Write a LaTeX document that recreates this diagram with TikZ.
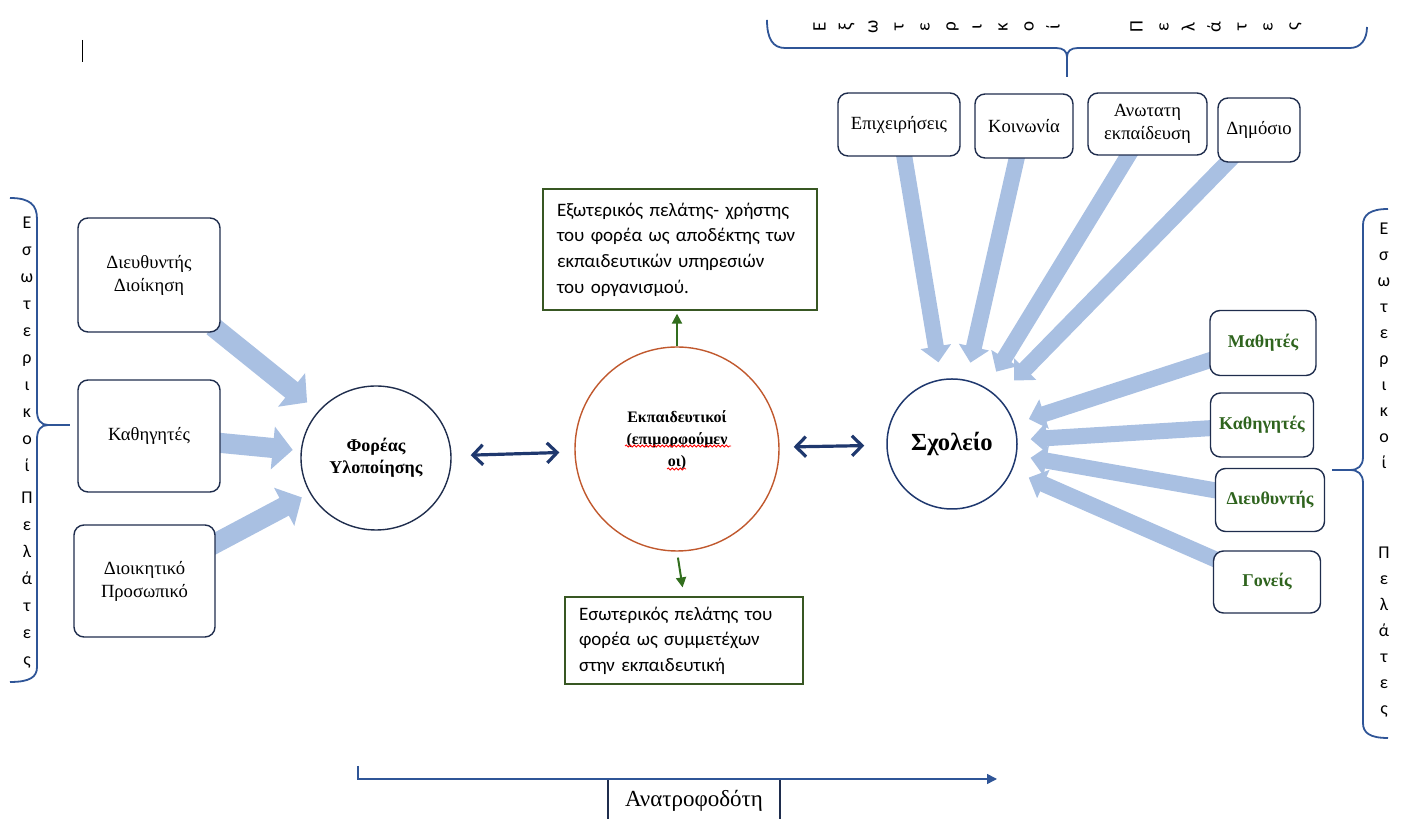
\documentclass[tikz,border=0pt]{standalone}
\usepackage{fontspec}
\setmainfont{Liberation Serif}
\newfontfamily\calfont{Carlito}
\usepackage{xcolor}
\usepackage{tikz}
\usetikzlibrary{arrows.meta, shapes.geometric, backgrounds, decorations.pathmorphing}

\definecolor{navyline}{RGB}{31,45,77}
\definecolor{blockblue}{RGB}{169,192,226}
\definecolor{darknavy}{RGB}{31,56,110}
\definecolor{bracecol}{RGB}{47,85,151}
\definecolor{greentxt}{RGB}{47,100,30}
\definecolor{greenline}{RGB}{56,87,35}
\definecolor{greenarr}{RGB}{50,110,30}
\definecolor{ekpcol}{RGB}{192,88,45}

\tikzset{
  rbox/.style={draw=navyline, line width=0.7pt, rounded corners=5pt, fill=white,
    align=center, inner sep=2pt, font=\fontsize{9.3}{11.5}\selectfont},
  grnbox/.style={rbox, text=greentxt, font=\bfseries\fontsize{9}{11}\selectfont},
  gbox/.style={draw=greenline, line width=0.7pt, fill=white, align=left,
    inner xsep=7pt, inner ysep=2pt, font=\calfont\fontsize{9.5}{12.8}\selectfont},
  lblock/.style={blockblue, line width=10pt, -{Triangle[length=10pt,width=21pt]},
    shorten <=-5pt, shorten >=5pt},
  rblock/.style={blockblue, line width=8pt, -{Triangle[length=8pt,width=15pt]},
    shorten <=-5pt},
  dblarr/.style={darknavy, line width=1.6pt,
    {Straight Barb[length=5pt,width=10pt]}-{Straight Barb[length=5pt,width=10pt]}},
  garr/.style={greenarr, line width=1pt, -{Triangle[length=5pt,width=5pt]}},
  fbarr/.style={bracecol, line width=0.75pt, -{Triangle[length=5pt,width=5pt]}},
  bracel/.style={bracecol, line width=0.9pt},
  stack/.style={font=\calfont\fontsize{9}{13.5}\selectfont, align=center, inner sep=0pt},
  tletter/.style={rotate=90, font=\calfont\fontsize{9.5}{11}\selectfont, inner sep=0pt,
    text height=1.5ex, text depth=0.3ex}
}

\begin{document}
\begin{tikzpicture}[x=0.5pt, y=0.5pt]
    \useasboundingbox (0,0) rectangle (1405,819);

    % δρομέας
    \draw[line width=0.5pt] (82,779) -- (82,757);

    % Αριστερά κουτιά
    \node[rbox, minimum width=71pt, minimum height=57pt] (dird) at (149,544) {Διευθυντής\\Διοίκηση};
    \node[rbox, minimum width=71pt, minimum height=56pt] (kathL) at (149,383) {Καθηγητές};
    \node[rbox, minimum width=70.5pt, minimum height=56pt] (dprs) at (144.5,238) {Διοικητικό\\Προσωπικό};

    % Κύκλοι
    \node[ellipse, draw=navyline, line width=0.7pt, minimum width=75pt, minimum height=72pt,
        inner sep=0pt, align=center, font=\bfseries\fontsize{9}{11}\selectfont] (forea) at (376,361) {Φορέας\\Υλοποίησης};
    \node[circle, draw=ekpcol, line width=0.7pt, minimum size=102pt, inner sep=0pt] (ekp) at (677,370) {};
    \node[align=center, inner sep=0pt, font=\bfseries\fontsize{8}{11}\selectfont] (ekptxt) at (677,379) {Εκπαιδευτικοί\\(επιμορφούμεν\\οι)};
    \node[circle, draw=darknavy, line width=0.75pt, minimum size=65pt, inner sep=0pt,
        font=\bfseries\fontsize{12.3}{14}\selectfont] (sxol) at (952,375) {Σχολείο};

    % Πράσινα πλαίσια
    \node[gbox, text width=123pt, minimum height=60.5pt] (exbox) at (680,569.5)
        {Εξωτερικός πελάτης- χρήστης\\του φορέα ως αποδέκτης των\\εκπαιδευτικών υπηρεσιών\\του οργανισμού.};
    \node[gbox, text width=105pt, minimum height=43.5pt] (inbox) at (684,178.5)
        {Εσωτερικός πελάτης του\\φορέα ως συμμετέχων\\στην εκπαιδευτική};

    % Πάνω κουτιά
    \node[rbox, minimum width=61pt, minimum height=31.5pt] (epix) at (899,694.5) {Επιχειρήσεις};
    \node[rbox, minimum width=49pt, minimum height=32pt] (koin) at (1024,693) {Κοινωνία};
    \node[rbox, minimum width=59.5pt, minimum height=31pt] (anot) at (1147.5,695) {Ανωτατη\\εκπαίδευση};
    \node[rbox, minimum width=41pt, minimum height=32pt] (dimo) at (1259,689) {Δημόσιο};

    % Δεξιά κουτιά
    \node[grnbox, minimum width=53pt, minimum height=32.5pt] (math) at (1263,476) {Μαθητές};
    \node[grnbox, minimum width=51.5pt, minimum height=32pt] (kathR) at (1262,394) {Καθηγητές};
    \node[grnbox, minimum width=54.5pt, minimum height=31.5pt] (dieu) at (1270,319) {Διευθυντής};
    \node[grnbox, minimum width=53.5pt, minimum height=31pt] (gone) at (1267,237) {Γονείς};

    % Βέλη
    \begin{scope}[on background layer]
        \draw[lblock, shorten >=7pt] (dird) -- (forea);
        \draw[lblock, shorten >=4pt] (kathL) -- (forea);
        \draw[lblock, shorten >=4.5pt] (dprs) -- (forea);
        \draw[rblock, shorten >=8.5pt] (epix) -- (sxol);
        \draw[rblock, shorten >=8.8pt] (koin) -- (sxol);
        \draw[rblock, shorten >=9.5pt] (anot) -- (sxol);
        \draw[rblock, shorten >=11.5pt] (dimo) -- (sxol);
        \draw[rblock, shorten >=7.5pt] (math) -- (sxol);
        \draw[rblock, shorten >=6.5pt] (kathR) -- (sxol);
        \draw[rblock, shorten >=7pt] (dieu) -- (sxol);
        \draw[rblock, shorten >=9pt] (gone) -- (sxol);
    \end{scope}
    \draw[dblarr, shorten <=9.5pt, shorten >=7.5pt] (forea) -- (ekp);
    \draw[dblarr, shorten <=7pt, shorten >=11pt] (ekp) -- (sxol);
    \draw[garr, shorten >=1.5pt] (ekp.north) -- (ekp.north |- exbox.south);
    \draw[garr, shorten <=3pt, shorten >=4.5pt] (ekp.south) -- (inbox.north);

    % υπογράμμιση
    \draw[red, line width=0.4pt, decorate, decoration={snake, amplitude=0.5pt, segment length=2pt}] (625,373) -- (731,373);
    \draw[red, line width=0.4pt, decorate, decoration={snake, amplitude=0.5pt, segment length=2pt}] (667,350) -- (686,350);

    % Άγκιστρα
    \draw[bracel] (10,621) .. controls (30,621) and (37,614) .. (37,600) -- (37,408)
        .. controls (37,399) and (41,394) .. (48,394) .. controls (41,394) and (37,389) .. (37,380)
        -- (37,152) .. controls (37,142) and (30,137) .. (10,137);
    \draw[bracel] (48,394) -- (70,394);
    \draw[bracel] (1388,610) .. controls (1370,610) and (1363,604) .. (1363,594) -- (1363,362)
        .. controls (1363,353) and (1358,349) .. (1350,349) .. controls (1358,349) and (1363,345) .. (1363,336)
        -- (1363,96) .. controls (1363,86) and (1370,81) .. (1388,81);
    \draw[bracel] (1350,349) -- (1332,349);
    \draw[bracel] (767,799) .. controls (767,780) and (773,771) .. (785,771) -- (1056,771)
        .. controls (1063,771) and (1067,768) .. (1067,762) .. controls (1067,768) and (1071,771) .. (1078,771)
        -- (1350,771) .. controls (1361,771) and (1367,780) .. (1367,792);
    \draw[bracel] (1067,762) -- (1067,742);

    % Γράμματα
    \node[stack, anchor=north] (lstack) at (27,602) {Ε\\σ\\ω\\τ\\ε\\ρ\\ι\\κ\\ο\\ί\\[2.5pt]Π\\ε\\λ\\ά\\τ\\ε\\ς};
    \node[stack, font=\calfont\fontsize{9}{13}\selectfont, anchor=north] (rstack) at (1384,596) {Ε\\σ\\ω\\τ\\ε\\ρ\\ι\\κ\\ο\\ί\\[32pt]Π\\ε\\λ\\ά\\τ\\ε\\ς};
    \foreach \ch [count=\i from 0] in {Ε,ξ,ω,τ,ε,ρ,ι,κ,ο,ί}
        \node[tletter] (tl\i) at (820+26*\i,792) {\ch};
    \foreach \ch [count=\i from 0] in {Π,ε,λ,ά,τ,ε,ς}
        \node[tletter] (tp\i) at (1137+26*\i,792) {\ch};

    % Ανατροφοδότηση
    \coordinate (fbL) at (358,53);
    \coordinate (fbR) at (997,40);
    \node[draw=navyline, line width=0.6pt, minimum width=86pt, minimum height=22pt, inner sep=0pt,
        font=\fontsize{11.5}{13}\selectfont] (fbox) at (694,18) {Ανατροφοδότη};
    \draw[fbarr] (fbL) |- (fbR);
\end{tikzpicture}
\end{document}
